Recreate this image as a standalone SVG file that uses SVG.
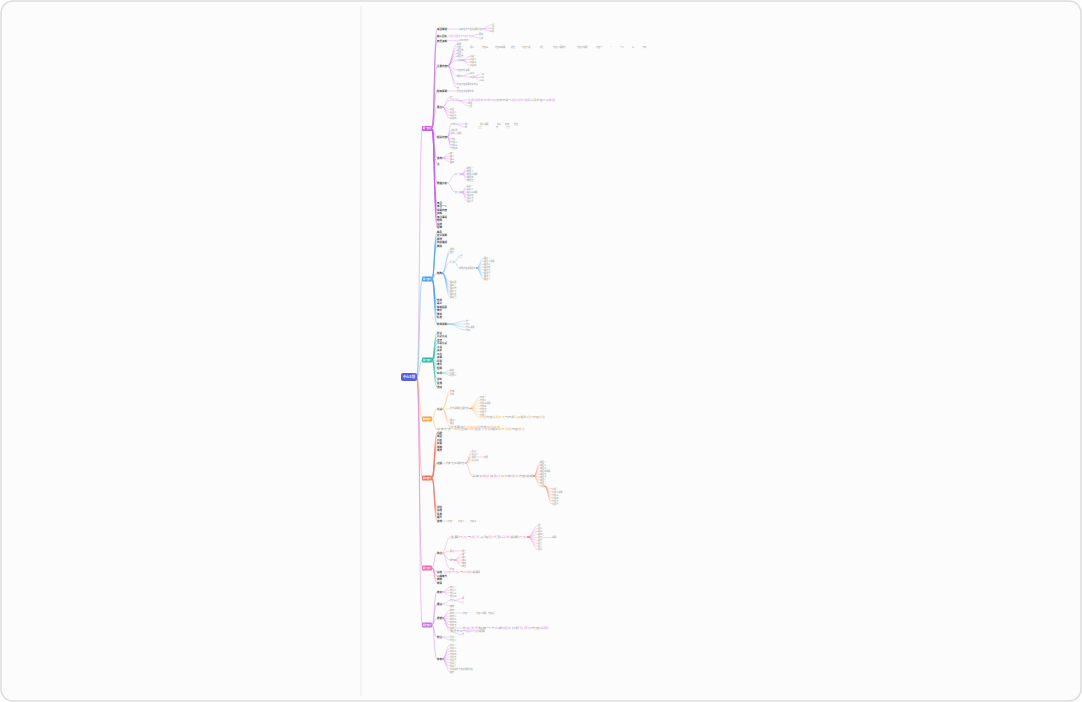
<svg xmlns="http://www.w3.org/2000/svg" width="1082" height="702" viewBox="0 0 1082 702">
<style>
.b{font-family:"Noto Sans CJK SC","Noto Sans",sans-serif;font-size:2.5px;font-weight:700;fill:#3c3c3c}
.s{font-family:"Noto Sans CJK SC","Noto Sans",sans-serif;font-size:2.1px;fill:#9a9a9a}
.w{font-family:"Noto Sans CJK SC","Noto Sans",sans-serif;font-weight:700;fill:#fff;text-anchor:middle}
.c{fill:none;stroke-linecap:round;stroke-width:0.3;stroke-opacity:0.85}
.c1{stroke-width:0.45}
.c0{stroke-width:0.7;stroke-opacity:0.55}
.k1{stroke:#c35de6}.k2{stroke:#3f9cf0}.k3{stroke:#23b3a4}.k4{stroke:#f2a23a}.k5{stroke:#f26b5b}.k6{stroke:#ee5fa7}.k7{stroke:#c468e6}
.l1{fill:#dba6f2}.l4{fill:#f5c47f}.l5{fill:#f7a197}.l6{fill:#f5a9cf}.l7{fill:#d9a2f2}
</style>
<rect x="0" y="0" width="1082" height="702" fill="#ffffff"/>
<rect x="1" y="1" width="1080" height="700" rx="12" fill="#fcfcfc" stroke="#dcdcdc" stroke-width="1.5"/>
<line x1="361" y1="6" x2="361" y2="696" stroke="#ececec" stroke-width="1"/>

<g id="connectors">
<path class="c c0 k1" d="M417 377C420 377 419 128.5 422 128.5"/>
<path class="c c0 k2" d="M417 377C420 377 419 279 422 279"/>
<path class="c c0 k3" d="M417 377C420 377 419 360 422 360"/>
<path class="c c0 k4" d="M417 377C420 377 419 419 422 419"/>
<path class="c c0 k5" d="M417 377C420 377 419 478 422 478"/>
<path class="c c0 k6" d="M417 377C420 377 419 568 422 568"/>
<path class="c c0 k7" d="M417 377C420 377 419 625 422 625"/>

<path class="c c1 k1" d="M432 128.5C435 128.5 433.5 29 437 29M432 128.5C435 128.5 433.5 36 437 36M432 128.5C435 128.5 433.5 40.7 437 40.7M432 128.5C435 128.5 433.5 66 437 66M432 128.5C435 128.5 433.5 91 437 91M432 128.5C435 128.5 433.5 107 437 107M432 128.5C435 128.5 433.5 137 437 137M432 128.5C435 128.5 433.5 158 437 158M432 128.5C435 128.5 433.5 164 437 164M432 128.5C435 128.5 433.5 183 437 183M432 128.5C435 128.5 433.5 203 437 203M432 128.5C435 128.5 433.5 206.5 437 206.5M432 128.5C435 128.5 433.5 210 437 210M432 128.5C435 128.5 433.5 213.5 437 213.5M432 128.5C435 128.5 433.5 217 437 217M432 128.5C435 128.5 433.5 220.5 437 220.5M432 128.5C435 128.5 433.5 224 437 224M432 128.5C435 128.5 433.5 227.5 437 227.5"/>
<path class="c k1" d="M447.5 29H459M482.5 29C486 29 486 25.7 490 25.7M482.5 29C486 29 486 28.3 490 28.3M482.5 29C486 29 486 31 490 31M447.5 36H450M471.5 36C475 36 475 34 479 34M471.5 36C475 36 475 38 479 38M447.5 40.7H459M447.5 66C452 66 452 44.3 457 44.3M447.5 66C452 66 452 47.3 457 47.3M447.5 66C452 66 452 50.3 457 50.3M447.5 66C452 66 452 53.3 457 53.3M447.5 66C452 66 452 56.3 457 56.3M447.5 66C452 66 452 60 457 60M447.5 66C452 66 452 70 457 70M447.5 66C452 66 452 76 457 76M447.5 66C452 66 452 84.5 457 84.5M447.5 66C452 66 452 88 457 88M461.5 60C466 60 466 56.5 470 56.5M461.5 60C466 60 466 59.5 470 59.5M461.5 60C466 60 466 62.5 470 62.5M461.5 60C466 60 466 65.5 470 65.5M461.5 76C466 76 466 73.5 470 73.5M461.5 76C466 76 466 77 470 77M474.5 77C477 77 477 74.5 480 74.5M474.5 77C477 77 477 77.5 480 77.5M474.5 77C477 77 477 80.5 480 80.5M447.5 91H457M442.5 107C446 107 446 97 450 97M442.5 107C446 107 446 100.5 450 100.5M442.5 107C446 107 446 109.5 450 109.5M442.5 107C446 107 446 112.5 450 112.5M442.5 107C446 107 446 115.5 450 115.5M442.5 107C446 107 446 118.5 450 118.5M459 100.5C463.5 100.5 463.5 100 468 100M459 100.5C463.5 100.5 463.5 103 468 103M459 100.5C463.5 100.5 463.5 106 468 106M447.5 137C449.5 137 449 124 451 124M447.5 137C449.5 137 449 130 451 130M447.5 137C449.5 137 449 133 451 133M447.5 137C449.5 137 449 139 451 139M447.5 137C449.5 137 449 142 451 142M447.5 137C449.5 137 449 145 451 145M447.5 137C449.5 137 449 148 451 148M455.5 124H465M455.5 124C460 124 460 127 465 127M442.5 158C446 158 446 153 450 153M442.5 158C446 158 446 156 450 156M442.5 158C446 158 446 159 450 159M442.5 158C446 158 446 162 450 162M447.5 183C451 183 451 174 455 174M447.5 183C451 183 451 192 455 192M462 174C464.5 174 464.5 168 467 168M462 174C464.5 174 464.5 171 467 171M462 174C464.5 174 464.5 174 467 174M462 174C464.5 174 464.5 177 467 177M462 174C464.5 174 464.5 180 467 180M462 192C464.5 192 464.5 186 467 186M462 192C464.5 192 464.5 189 467 189M462 192C464.5 192 464.5 192 467 192M462 192C464.5 192 464.5 195 467 195M462 192C464.5 192 464.5 198 467 198M462 192C464.5 192 464.5 201 467 201"/>

<path class="c c1 k2" d="M432 279C435 279 433.5 232 437 232M432 279C435 279 433.5 235.5 437 235.5M432 279C435 279 433.5 239 437 239M432 279C435 279 433.5 242.5 437 242.5M432 279C435 279 433.5 246 437 246M432 279C435 279 433.5 273 437 273M432 279C435 279 433.5 300 437 300M432 279C435 279 433.5 303.5 437 303.5M432 279C435 279 433.5 307 437 307M432 279C435 279 433.5 310.5 437 310.5M432 279C435 279 433.5 314 437 314M432 279C435 279 433.5 317.5 437 317.5M432 279C435 279 433.5 324 437 324"/>
<path class="c k2" d="M442.5 273C446 273 446 249.5 450 249.5M442.5 273C446 273 446 252.5 450 252.5M442.5 273C446 273 446 262 450 262M442.5 273C446 273 446 282 450 282M442.5 273C446 273 446 285 450 285M442.5 273C446 273 446 288 450 288M442.5 273C446 273 446 291 450 291M442.5 273C446 273 446 294 450 294M442.5 273C446 273 446 297 450 297M454.5 262C457 262 457 256 459 256M454.5 262C457 262 457 268 459 268M476.5 268C480 268 480 258 484 258M476.5 268C480 268 480 261 484 261M476.5 268C480 268 480 264 484 264M476.5 268C480 268 480 267 484 267M476.5 268C480 268 480 270 484 270M476.5 268C480 268 480 273 484 273M476.5 268C480 268 480 276 484 276M476.5 268C480 268 480 279 484 279M447.5 324C457 324 457 321 466 321M447.5 324C457 324 457 324 466 324M447.5 324C457 324 457 327 466 327M447.5 324C457 324 457 330 466 330"/>

<path class="c c1 k3" d="M432 360C435 360 433.5 333 437 333M432 360C435 360 433.5 336.5 437 336.5M432 360C435 360 433.5 340 437 340M432 360C435 360 433.5 343.5 437 343.5M432 360C435 360 433.5 347 437 347M432 360C435 360 433.5 350.5 437 350.5M432 360C435 360 433.5 354 437 354M432 360C435 360 433.5 357.5 437 357.5M432 360C435 360 433.5 361 437 361M432 360C435 360 433.5 364.5 437 364.5M432 360C435 360 433.5 368 437 368M432 360C435 360 433.5 373 437 373M432 360C435 360 433.5 379 437 379M432 360C435 360 433.5 383 437 383M432 360C435 360 433.5 387 437 387"/>
<path class="c k3" d="M442.5 373C446 373 446 370.5 450 370.5M442.5 373H450M442.5 373C446 373 446 375.5 450 375.5"/>

<path class="c c1 k4" d="M432 419C435 419 433.5 409 437 409M432 419C435 419 433.5 429.5 437 429.5"/>
<path class="c k4" d="M442.5 409C446 409 446 391 450 391M442.5 409C446 409 446 394 450 394M442.5 409C446 409 446 408.5 450 408.5M442.5 409C446 409 446 420 450 420M442.5 409C446 409 446 423 450 423M442.5 409C446 409 446 427 450 427M469.5 408.5C475 408.5 475 397 480 397M469.5 408.5C475 408.5 475 400 480 400M469.5 408.5C475 408.5 475 403 480 403M469.5 408.5C475 408.5 475 406 480 406M469.5 408.5C475 408.5 475 409 480 409M469.5 408.5C475 408.5 475 412 480 412M469.5 408.5C475 408.5 475 415 480 415M469.5 408.5C475 408.5 475 417.5 480 417.5"/>

<path class="c c1 k5" d="M432 478C435 478 433.5 433 437 433M432 478C435 478 433.5 436.5 437 436.5M432 478C435 478 433.5 440 437 440M432 478C435 478 433.5 443.5 437 443.5M432 478C435 478 433.5 447 437 447M432 478C435 478 433.5 450.5 437 450.5M432 478C435 478 433.5 463 437 463M432 478C435 478 433.5 507 437 507M432 478C435 478 433.5 510.5 437 510.5M432 478C435 478 433.5 514 437 514M432 478C435 478 433.5 517.5 437 517.5M432 478C435 478 433.5 521 437 521"/>
<path class="c k5" d="M442.5 463H446M465.5 463C469 463 469 451 472 451M465.5 463C469 463 469 454 472 454M465.5 463C469 463 469 457 472 457M465.5 463C469 463 469 460 472 460M465.5 463C469 463 469 476 472 476M477 457H484M533.5 476C537 476 537 462 540 462M533.5 476C537 476 537 465 540 465M533.5 476C537 476 537 468 540 468M533.5 476C537 476 537 471 540 471M533.5 476C537 476 537 474 540 474M533.5 476C537 476 537 477 540 477M533.5 476C537 476 537 480 540 480M533.5 476C537 476 537 483 540 483M533.5 476C537 476 537 486 540 486M544.5 486C548 486 548 489 552 489M544.5 486C548 486 548 492 552 492M544.5 486C548 486 548 495 552 495M544.5 486C548 486 548 498 552 498M544.5 486C548 486 548 501 552 501M544.5 486C548 486 548 504 552 504M442.5 521H448"/>

<path class="c c1 k6" d="M432 568C435 568 433.5 553 437 553M432 568C435 568 433.5 572 437 572M432 568C435 568 433.5 576 437 576M432 568C435 568 433.5 579.5 437 579.5M432 568C435 568 433.5 583 437 583"/>
<path class="c k6" d="M442.5 553C446 553 446 537 450 537M442.5 553C446 553 446 551 450 551M442.5 553C446 553 446 560 450 560M442.5 553C446 553 446 569 450 569M527.5 537C533 537 533 525.5 538 525.5M527.5 537C533 537 533 528.5 538 528.5M527.5 537C533 537 533 531.5 538 531.5M527.5 537C533 537 533 534.5 538 534.5M527.5 537C533 537 533 537.5 538 537.5M527.5 537C533 537 533 540.5 538 540.5M527.5 537C533 537 533 543.5 538 543.5M527.5 537C533 537 533 546.5 538 546.5M527.5 537C533 537 533 549.5 538 549.5M542.5 537.5H552M454.5 551H462M454.5 560C458 560 458 554 462 554M454.5 560C458 560 458 557 462 557M454.5 560H462M454.5 560C458 560 458 563 462 563M454.5 560C458 560 458 566 462 566"/>

<path class="c c1 k7" d="M432 625C435 625 433.5 592 437 592M432 625C435 625 433.5 604 437 604M432 625C435 625 433.5 618 437 618M432 625C435 625 433.5 637 437 637M432 625C435 625 433.5 659 437 659"/>
<path class="c k7" d="M442.5 592C446 592 446 587 450 587M442.5 592C446 592 446 590 450 590M442.5 592C446 592 446 593 450 593M442.5 592C446 592 446 596 450 596M442.5 604C446 604 446 600.5 450 600.5M442.5 604C446 604 446 606 450 606M454.5 600.5C458 600.5 458 598.5 462 598.5M454.5 600.5C458 600.5 458 602.5 462 602.5M442.5 618C446 618 446 610 450 610M442.5 618C446 618 446 613 450 613M442.5 618C446 618 446 616 450 616M442.5 618C446 618 446 619 450 619M442.5 618C446 618 446 622 450 622M442.5 618C446 618 446 625 450 625M442.5 618C446 618 446 628 450 628M442.5 618C446 618 446 631 450 631M442.5 618C446 618 446 634.5 462 634.5M454.5 613H463M454.5 628H462M442.5 637H450M442.5 637C446 637 446 640 450 640M442.5 659C446 659 446 645 450 645M442.5 659C446 659 446 648 450 648M442.5 659C446 659 446 651 450 651M442.5 659C446 659 446 654 450 654M442.5 659C446 659 446 657 450 657M442.5 659C446 659 446 660 450 660M442.5 659C446 659 446 663 450 663M442.5 659C446 659 446 666 450 666M442.5 659C446 659 446 669 450 669M442.5 659C446 659 446 672 450 672"/>
</g>

<g id="root"><rect x="401" y="373" width="16" height="8" rx="2" fill="#5a5fe0"/><text class="w" x="409" y="378.1" font-size="3">中心主题</text></g>
<g id="branch-1"><rect x="422" y="126" width="10" height="5" rx="1" fill="#c35de6"/><text class="w" x="427" y="129.3" font-size="2.2">第一部分</text></g>
<g id="branch-2"><rect x="422" y="276.5" width="10" height="5" rx="1" fill="#3f9cf0"/><text class="w" x="427" y="279.8" font-size="2.2">第二部分</text></g>
<g id="branch-3"><rect x="422" y="357.5" width="10" height="5" rx="1" fill="#23b3a4"/><text class="w" x="427" y="360.8" font-size="2.2">第三部分</text></g>
<g id="branch-4"><rect x="422" y="416.5" width="10" height="5" rx="1" fill="#f2a23a"/><text class="w" x="427" y="419.8" font-size="2.2">第四部分</text></g>
<g id="branch-5"><rect x="422" y="475.5" width="10" height="5" rx="1" fill="#f26b5b"/><text class="w" x="427" y="478.8" font-size="2.2">第五部分</text></g>
<g id="branch-6"><rect x="422" y="565.5" width="10" height="5" rx="1" fill="#ee5fa7"/><text class="w" x="427" y="568.8" font-size="2.2">第六部分</text></g>
<g id="branch-7"><rect x="422" y="622.5" width="10" height="5" rx="1" fill="#c468e6"/><text class="w" x="427" y="625.8" font-size="2.2">第七部分</text></g>

<g id="b1-n1"><text class="b" x="437" y="29.9">项目概述</text><text class="s" x="459" y="29.75">基本信息与相关说明内容</text><text class="s" x="490" y="26.45">一项</text><text class="s" x="490" y="29.05">二项</text><text class="s" x="490" y="31.75">三项</text></g>
<g id="b1-n2"><text class="b" x="437" y="36.9">核心目标</text><text class="s l1" x="450" y="36.75">目标说明文字内容示例</text><text class="s" x="479" y="34.75">甲类</text><text class="s" x="479" y="38.75">乙类</text></g>
<g id="b1-n3"><text class="b" x="437" y="41.6">背景资料</text><text class="s" x="459" y="41.45">1988 年份</text></g>
<g id="b1-n4"><text class="b" x="437" y="66.9">主要内容</text>
<text class="s" x="457" y="45.05">概要</text>
<text class="s" y="48.05"><tspan x="457">内容一</tspan><tspan x="470">项二</tspan><tspan x="482">内容三</tspan><tspan x="495">内容四说明</tspan><tspan x="511">项五</tspan><tspan x="522">内容六说</tspan><tspan x="540">项七</tspan><tspan x="553">内容八说明内</tspan><tspan x="577">内容九说明</tspan><tspan x="596">内容十</tspan><tspan x="610">一</tspan><tspan x="620">十二</tspan><tspan x="632">三</tspan><tspan x="642">十四</tspan></text>
<text class="s" x="457" y="51.05">项目甲</text><text class="s" x="457" y="54.05">项目乙</text><text class="s" x="457" y="57.05">项目丙</text><text class="s" x="457" y="60.75">分类</text>
<text class="s" x="470" y="57.25">子类一</text><text class="s" x="470" y="60.25">子类二</text><text class="s" x="470" y="63.25">子类三</text><text class="s" x="470" y="66.25">子类四</text>
<text class="s" x="457" y="70.75">内容较长说明</text><text class="s" x="457" y="76.75">细则</text><text class="s" x="470" y="74.25">条款</text><text class="s" x="470" y="77.75">子项</text>
<text class="s" x="480" y="75.25">一条</text><text class="s" x="480" y="78.25">二条</text><text class="s" x="480" y="81.25">三条</text>
<text class="s" x="457" y="85.25">补充内容说明文字详情</text><text class="s" x="457" y="88.75">附</text></g>
<g id="b1-n5"><text class="b" x="437" y="91.9">附加说明</text><text class="s" x="457" y="91.75">内容文字说明示例</text></g>
<g id="b1-n6"><text class="b" x="437" y="107.9">要点</text>
<text class="s" x="450" y="97.75">第一</text><text class="s l1" x="450" y="101.25">重要说明</text><text class="s" x="450" y="110.25">条目一</text><text class="s" x="450" y="113.25">条目二</text><text class="s" x="450" y="116.25">条目三</text><text class="s" x="450" y="119.25">条目四</text>
<text class="s" x="468" y="100.75" textLength="87" lengthAdjust="spacingAndGlyphs"><tspan class="l1">重要说明的详细内容</tspan>文字示例<tspan class="l1">与相关解释说明</tspan>以及补充<tspan class="l1">内容概要</tspan></text>
<text class="s" x="468" y="103.75">甲项</text><text class="s" x="468" y="106.75">乙项</text></g>
<g id="b1-n7"><text class="b" x="437" y="137.9">相关内容</text>
<text class="s" x="451" y="124.75">示例</text>
<text class="s" y="124.75"><tspan x="465">例一</tspan><tspan x="480">例二说明</tspan><tspan x="497">例三</tspan><tspan x="505">例四</tspan><tspan x="514">例五</tspan></text>
<text class="s" y="127.75"><tspan x="465">甲</tspan><tspan x="478">乙乙</tspan><tspan x="496">丙</tspan><tspan x="506">丁丁</tspan></text>
<text class="s" x="451" y="130.75">资料甲</text><text class="s" x="451" y="133.75">资料乙说明</text><text class="s" x="451" y="139.75">内容一</text><text class="s" x="451" y="142.75">内容二</text><text class="s" x="451" y="145.75">内容三</text><text class="s" x="451" y="148.75">内容四</text></g>
<g id="b1-n8"><text class="b" x="437" y="158.9">其他</text><text class="s" x="450" y="153.75">其一</text><text class="s" x="450" y="156.75">其二</text><text class="s" x="450" y="159.75">其三</text><text class="s" x="450" y="162.75">其四</text></g>
<g id="b1-n9"><text class="b" x="437" y="164.9">注</text></g>
<g id="b1-n10"><text class="b" x="437" y="183.9">数据分析</text>
<text class="s" x="455" y="174.75">第一类</text><text class="s" x="455" y="192.75">第二类</text>
<text class="s" x="467" y="168.75">数据一</text><text class="s" x="467" y="171.75">数据二</text><text class="s" x="467" y="174.75">数据三说明</text><text class="s" x="467" y="177.75">数据四</text><text class="s" x="467" y="180.75">数据五</text>
<text class="s" x="467" y="186.75">指标一</text><text class="s" x="467" y="189.75">指标二</text><text class="s" x="467" y="192.75">指标三说明</text><text class="s" x="467" y="195.75">指标四</text><text class="s" x="467" y="198.75">指标五</text><text class="s" x="467" y="201.75">指标六</text></g>
<g id="b1-n11"><text class="b" x="437" y="203.9">条目</text></g>
<g id="b1-n12"><text class="b" x="437" y="207.4">条目一二</text></g>
<g id="b1-n13"><text class="b" x="437" y="210.9">说明内容</text></g>
<g id="b1-n14"><text class="b" x="437" y="214.4">资料</text></g>
<g id="b1-n15"><text class="b" x="437" y="217.9">备注事项</text></g>
<g id="b1-n16"><text class="b" x="437" y="221.4">案例</text></g>
<g id="b1-n17"><text class="b" x="437" y="224.9">总结</text></g>
<g id="b1-n18"><text class="b" x="437" y="228.4">延伸</text></g>

<g id="b2-n1"><text class="b" x="437" y="232.9">概念</text></g>
<g id="b2-n2"><text class="b" x="437" y="236.4">定义说明</text></g>
<g id="b2-n3"><text class="b" x="437" y="239.9">原理</text></g>
<g id="b2-n4"><text class="b" x="437" y="243.4">特征描述</text></g>
<g id="b2-n5"><text class="b" x="437" y="246.9">类别</text></g>
<g id="b2-n6"><text class="b" x="437" y="273.9">结构</text>
<text class="s" x="450" y="250.25">组成</text><text class="s" x="450" y="253.25">部分</text><text class="s" x="450" y="262.75">层次</text>
<text class="s" x="459" y="256.75">上层</text><text class="s" x="459" y="268.75">详细内容说明文字</text>
<text class="s" x="484" y="258.75">要点一</text><text class="s" x="484" y="261.75">要点二说明</text><text class="s" x="484" y="264.75">要点三</text><text class="s" x="484" y="267.75">要点四</text><text class="s" x="484" y="270.75">要点五</text><text class="s" x="484" y="273.75">要点六</text><text class="s" x="484" y="276.75">要点七</text><text class="s" x="484" y="279.75">要点八</text>
<text class="s" x="450" y="282.75">要素甲</text><text class="s" x="450" y="285.75">要素乙</text><text class="s" x="450" y="288.75">要素丙</text><text class="s" x="450" y="291.75">要素丁</text><text class="s" x="450" y="294.75">要素戊</text><text class="s" x="450" y="297.75">要素己</text></g>
<g id="b2-n7"><text class="b" x="437" y="300.9">作用</text></g>
<g id="b2-n8"><text class="b" x="437" y="304.4">意义</text></g>
<g id="b2-n9"><text class="b" x="437" y="307.9">影响因素</text></g>
<g id="b2-n10"><text class="b" x="437" y="311.4">条件</text></g>
<g id="b2-n11"><text class="b" x="437" y="314.9">要求</text></g>
<g id="b2-n12"><text class="b" x="437" y="318.4">标准</text></g>
<g id="b2-n13"><text class="b" x="437" y="324.9">附录说明</text><text class="s" x="466" y="321.75">附一</text><text class="s" x="466" y="324.75">附二</text><text class="s" x="466" y="327.75">附三说明</text><text class="s" x="466" y="330.75">附四</text></g>

<g id="b3-n1"><text class="b" x="437" y="333.9">形式</text></g>
<g id="b3-n2"><text class="b" x="437" y="337.4">方式方法</text></g>
<g id="b3-n3"><text class="b" x="437" y="340.9">途径</text></g>
<g id="b3-n4"><text class="b" x="437" y="344.4">手段方式</text></g>
<g id="b3-n5"><text class="b" x="437" y="347.9">工具</text></g>
<g id="b3-n6"><text class="b" x="437" y="351.4">技术</text></g>
<g id="b3-n7"><text class="b" x="437" y="354.9">平台</text></g>
<g id="b3-n8"><text class="b" x="437" y="358.4">资源</text></g>
<g id="b3-n9"><text class="b" x="437" y="361.9">环境</text></g>
<g id="b3-n10"><text class="b" x="437" y="365.4">条件</text></g>
<g id="b3-n11"><text class="b" x="437" y="368.9">保障</text></g>
<g id="b3-n12"><text class="b" x="437" y="373.9">应用</text><text class="s" x="450" y="371.25">实例</text><text class="s" x="450" y="373.75">案例一</text><text class="s" x="450" y="376.25">案例二</text></g>
<g id="b3-n13"><text class="b" x="437" y="379.9">评价</text></g>
<g id="b3-n14"><text class="b" x="437" y="383.9">反馈</text></g>
<g id="b3-n15"><text class="b" x="437" y="387.9">改进</text></g>

<g id="b4-n1"><text class="b" x="437" y="409.9">方法</text>
<text class="s" x="450" y="391.75">步骤</text><text class="s" x="450" y="394.75">流程</text><text class="s" x="450" y="409.25">方法说明的主要内容</text><text class="s" x="450" y="420.75">要点一</text><text class="s" x="450" y="423.75">要点</text>
<text class="s" x="450" y="427.75" textLength="50" lengthAdjust="spacingAndGlyphs">方法要点<tspan class="l4">的补充说明</tspan>内容<tspan class="l4">示例文字</tspan></text>
<text class="s" x="480" y="397.75">内容一</text><text class="s" x="480" y="400.75">内容二</text><text class="s" x="480" y="403.75">内容三说明</text><text class="s" x="480" y="406.75">内容四</text><text class="s" x="480" y="409.75">内容五</text><text class="s" x="480" y="412.75">内容六</text><text class="s" x="480" y="415.75">内容七</text>
<text class="s" x="480" y="418.25" textLength="65" lengthAdjust="spacingAndGlyphs"><tspan class="l4">补充</tspan>内容<tspan class="l4">说明文字</tspan>与示例<tspan class="l4">及其</tspan>相关<tspan class="l4">解释</tspan>内容<tspan class="l4">说明</tspan></text></g>
<g id="b4-n2"><text class="s" x="437" y="430.25" textLength="88" lengthAdjust="spacingAndGlyphs">总体方法<tspan class="l4">与实施</tspan>过程<tspan class="l4">中的</tspan>注意<tspan class="l4">事项</tspan>及相关<tspan class="l4">要求说明</tspan>内容<tspan class="l4">概述</tspan></text></g>

<g id="b5-n1"><text class="b" x="437" y="433.9">问题</text></g>
<g id="b5-n2"><text class="b" x="437" y="437.4">原因</text></g>
<g id="b5-n3"><text class="b" x="437" y="440.9">分析</text></g>
<g id="b5-n4"><text class="b" x="437" y="444.4">对策</text></g>
<g id="b5-n5"><text class="b" x="437" y="447.9">措施</text></g>
<g id="b5-n6"><text class="b" x="437" y="451.4">效果</text></g>
<g id="b5-n7"><text class="b" x="437" y="463.9">过程</text>
<text class="s" x="446" y="463.75">步骤与过程说明内容</text>
<text class="s" x="472" y="451.75">阶段一</text><text class="s" x="472" y="454.75">阶段二</text><text class="s" x="472" y="457.75">甲项</text><text class="s" x="472" y="460.75">阶段四</text><text class="s" x="484" y="457.75">结果</text>
<text class="s" x="472" y="476.75" textLength="61" lengthAdjust="spacingAndGlyphs">具体<tspan class="l5">实施步骤</tspan>及<tspan class="l5">过程中</tspan>的<tspan class="l5">相关</tspan>内容说明</text>
<text class="s" x="540" y="462.75">细目一</text><text class="s" x="540" y="465.75">细目二</text><text class="s" x="540" y="468.75">细目三</text><text class="s" x="540" y="471.75">细目四说明</text><text class="s" x="540" y="474.75">细目五</text><text class="s" x="540" y="477.75">细目六</text><text class="s" x="540" y="480.75">细目七</text><text class="s" x="540" y="483.75">细目八</text><text class="s" x="540" y="486.75">分项</text>
<text class="s" x="552" y="489.75">分项一</text><text class="s" x="552" y="492.75">分项二说明</text><text class="s" x="552" y="495.75">分项三</text><text class="s" x="552" y="498.75">分项四</text><text class="s" x="552" y="501.75">分项五</text><text class="s" x="552" y="504.75">分项六</text></g>
<g id="b5-n8"><text class="b" x="437" y="507.9">评估</text></g>
<g id="b5-n9"><text class="b" x="437" y="511.4">总结</text></g>
<g id="b5-n10"><text class="b" x="437" y="514.9">反思</text></g>
<g id="b5-n11"><text class="b" x="437" y="518.4">提升</text></g>
<g id="b5-n12"><text class="b" x="437" y="521.9">其他</text><text class="s" y="521.75"><tspan x="448">内容一</tspan><tspan x="458">内容二</tspan><tspan x="470">内容三</tspan></text></g>

<g id="b6-n1"><text class="b" x="437" y="553.9">特点</text>
<text class="s" x="450" y="537.75" textLength="77" lengthAdjust="spacingAndGlyphs">主要<tspan class="l6">特点</tspan>与<tspan class="l6">相关</tspan>表现<tspan class="l6">形式</tspan>及<tspan class="l6">具体</tspan>说明<tspan class="l6">内容</tspan></text>
<text class="s" x="538" y="526.25">项一</text><text class="s" x="538" y="529.25">项二</text><text class="s" x="538" y="532.25">项三</text><text class="s" x="538" y="535.25">项四</text><text class="s" x="538" y="538.25">项五</text><text class="s" x="538" y="541.25">项六</text><text class="s" x="538" y="544.25">项七</text><text class="s" x="538" y="547.25">项八</text><text class="s" x="538" y="550.25">项九</text><text class="s" x="552" y="538.25">说明</text>
<text class="s" x="450" y="551.75">要点</text><text class="s" x="462" y="551.75">甲乙</text><text class="s" x="450" y="560.75">细节</text>
<text class="s" x="462" y="554.75">细一</text><text class="s" x="462" y="557.75">细二</text><text class="s" x="462" y="560.75">细三</text><text class="s" x="462" y="563.75">细四</text><text class="s" x="462" y="566.75">细五</text>
<text class="s" x="450" y="569.75">补充</text></g>
<g id="b6-n2"><text class="b" x="437" y="572.9">总结</text><text class="s" x="443" y="572.75" textLength="37" lengthAdjust="spacingAndGlyphs"><tspan class="l6">总结内容</tspan>与<tspan class="l6">归纳</tspan>说明</text></g>
<g id="b6-n3"><text class="b" x="437" y="576.9">心得体会</text></g>
<g id="b6-n4"><text class="b" x="437" y="580.4">感想</text></g>
<g id="b6-n5"><text class="b" x="437" y="583.9">收获</text></g>

<g id="b7-n1"><text class="b" x="437" y="592.9">结论</text><text class="s" x="450" y="587.75">结论一</text><text class="s" x="450" y="590.75">结论二</text><text class="s" x="450" y="593.75">结论三</text><text class="s" x="450" y="596.75">结论四</text></g>
<g id="b7-n2"><text class="b" x="437" y="604.9">建议</text><text class="s" x="450" y="601.25">方案</text><text class="s" x="450" y="606.75">措施</text><text class="s" x="462" y="599.25">甲</text><text class="s" x="462" y="603.25">乙</text></g>
<g id="b7-n3"><text class="b" x="437" y="618.9">展望</text>
<text class="s" x="450" y="610.75">前景一</text><text class="s" x="450" y="613.75">前景</text><text class="s" y="613.75"><tspan x="463">内容一</tspan><tspan x="476">内容二说明</tspan><tspan x="488">内容三</tspan></text>
<text class="s" x="450" y="616.75">前景二</text><text class="s" x="450" y="619.75">前景三</text><text class="s" x="450" y="622.75">前景四</text><text class="s" x="450" y="625.75">前景五</text>
<text class="s" x="450" y="628.75">趋势</text>
<text class="s" x="462" y="628.75" textLength="86" lengthAdjust="spacingAndGlyphs"><tspan class="l7">未来发展</tspan>趋势<tspan class="l7">与方向</tspan>的<tspan class="l7">相关</tspan>分析<tspan class="l7">及预测</tspan>内容<tspan class="l7">说明</tspan></text>
<text class="s" x="450" y="631.75" textLength="35" lengthAdjust="spacingAndGlyphs">发展方向与<tspan class="l7">相关内容</tspan>说明</text>
<text class="s" x="462" y="635.25">附</text></g>
<g id="b7-n4"><text class="b" x="437" y="637.9">附注</text><text class="s" x="450" y="637.75">附注一</text><text class="s" x="450" y="640.75">附注二</text></g>
<g id="b7-n5"><text class="b" x="437" y="659.9">参考</text>
<text class="s" x="450" y="645.75">文献一</text><text class="s" x="450" y="648.75">文献二</text><text class="s" x="450" y="651.75">文献三</text><text class="s" x="450" y="654.75">文献四</text><text class="s" x="450" y="657.75">文献五</text><text class="s" x="450" y="660.75">文献六</text><text class="s" x="450" y="663.75">文献七</text><text class="s" x="450" y="666.75">文献八</text><text class="s" x="450" y="669.75">参考资料与文献说明内容</text><text class="s" x="450" y="672.75">其他</text></g>
</svg>
